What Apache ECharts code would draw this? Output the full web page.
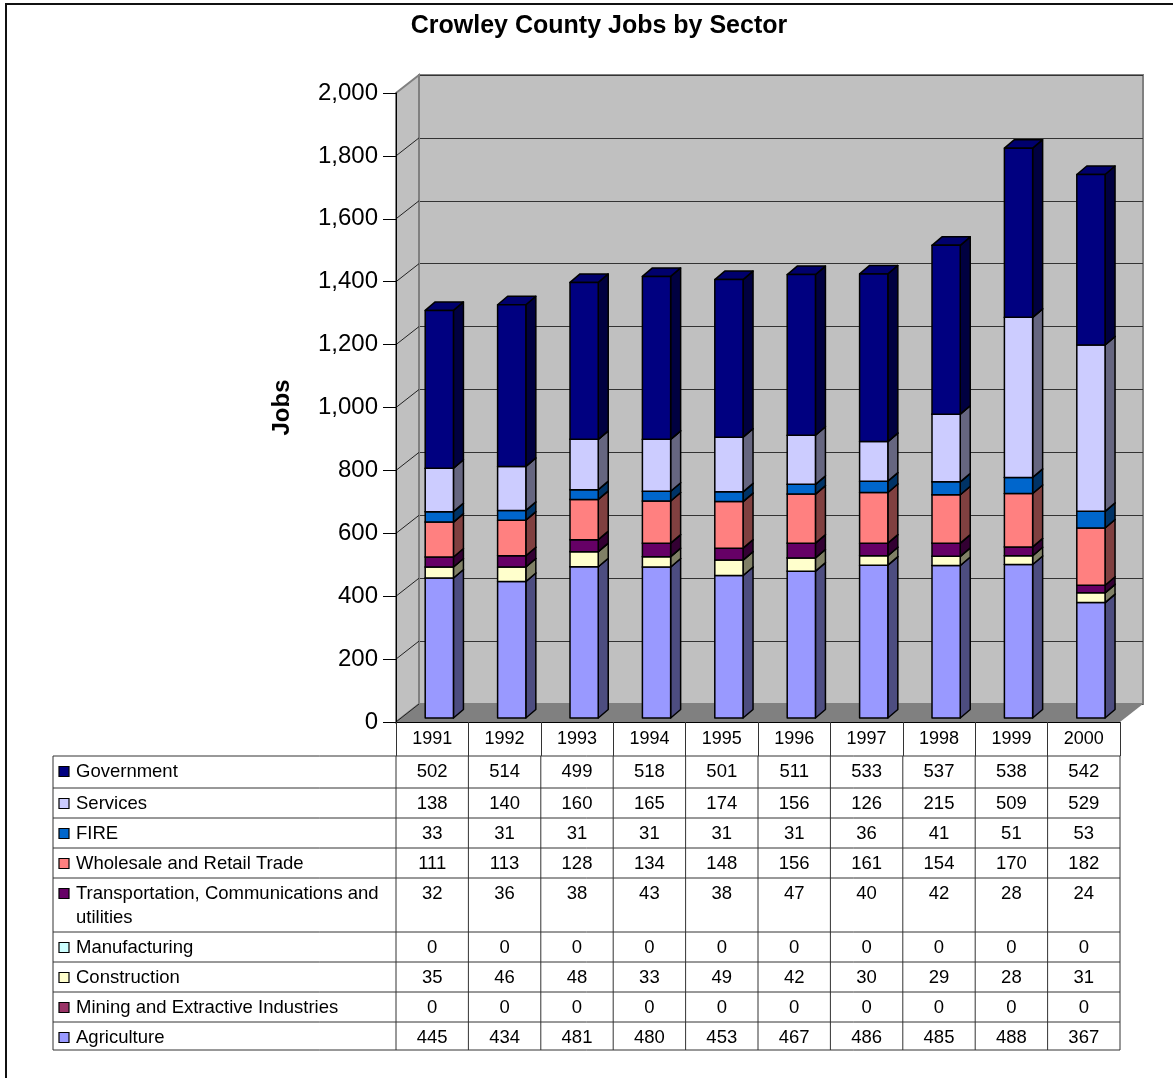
<!DOCTYPE html>
<html>
<head>
<meta charset="utf-8">
<title>Crowley County Jobs by Sector</title>
<script src="https://cdn.jsdelivr.net/npm/echarts@6/dist/echarts.min.js"></script>
<style>
  html, body { margin: 0; padding: 0; background: #fff; }
  #chart { width: 1173px; height: 1078px; }
</style>
</head>
<body>
<div id="chart"></div>
<script>
const years = ['1991', '1992', '1993', '1994', '1995', '1996', '1997', '1998', '1999', '2000']
const government = [502, 514, 499, 518, 501, 511, 533, 537, 538, 542]
const services = [138, 140, 160, 165, 174, 156, 126, 215, 509, 529]
const fire = [33, 31, 31, 31, 31, 31, 36, 41, 51, 53]
const wholesaleRetail = [111, 113, 128, 134, 148, 156, 161, 154, 170, 182]
const transportation = [32, 36, 38, 43, 38, 47, 40, 42, 28, 24]
const manufacturing = [0, 0, 0, 0, 0, 0, 0, 0, 0, 0]
const construction = [35, 46, 48, 33, 49, 42, 30, 29, 28, 31]
const mining = [0, 0, 0, 0, 0, 0, 0, 0, 0, 0]
const agriculture = [445, 434, 481, 480, 453, 467, 486, 485, 488, 367]
const yTicks = [0, 200, 400, 600, 800, 1000, 1200, 1400, 1600, 1800, 2000]

// stack order, bottom to top
const sectors = [
  { name: 'Agriculture', values: agriculture, color: '#9999FF' },
  { name: 'Mining and Extractive Industries', values: mining, color: '#993366' },
  { name: 'Construction', values: construction, color: '#FFFFCC' },
  { name: 'Manufacturing', values: manufacturing, color: '#CCFFFF' },
  { name: 'Transportation, Communications and utilities', values: transportation, color: '#660066' },
  { name: 'Wholesale and Retail Trade', values: wholesaleRetail, color: '#FF8080' },
  { name: 'FIRE', values: fire, color: '#0066CC' },
  { name: 'Services', values: services, color: '#CCCCFF' },
  { name: 'Government', values: government, color: '#000080' },
]
// table rows go top to bottom
const tableRows = sectors.slice().reverse()

const FONT = "'Liberation Sans', Arial, sans-serif"
const DX = 23, DY = -18          // depth of the walls
const BDX = 10, BDY = -8.5       // depth of one bar
const rowTops = [756, 788, 818, 848, 878, 932, 962, 992, 1022]
const tableBottom = 1050
const tableLeft = 53

function shade(hex, k) {
  const n = parseInt(hex.slice(1), 16)
  const r = Math.round(((n >> 16) & 255) * k)
  const g = Math.round(((n >> 8) & 255) * k)
  const b = Math.round((n & 255) * k)
  return `rgb(${r},${g},${b})`
}

const chart = echarts.init(document.getElementById('chart'))

// stacked 3d bars
const bases = years.map(() => 0)
const barSeries = sectors.map((s) => {
  const data = s.values.map((v, i) => [i, bases[i], bases[i] + v])
  s.values.forEach((v, i) => { bases[i] += v })
  return {
    type: 'custom',
    name: s.name,
    xAxisIndex: 0,
    yAxisIndex: 0,
    z: 5,
    data,
    renderItem(params, api) {
      const lo = api.value(1)
      const hi = api.value(2)
      if (hi <= lo) return null
      const pLo = api.coord([api.value(0), lo])
      const pHi = api.coord([api.value(0), hi])
      const band = api.size([1, 0])[0]
      const w = band * 0.39
      const xl = pLo[0] - 7
      const xr = xl + w
      const yl = pLo[1] - 4
      const yh = pHi[1] - 4
      const line = { stroke: '#000', lineWidth: 1.5, lineJoin: 'round' }
      return {
        type: 'group',
        children: [
          { type: 'polygon', shape: { points: [[xr, yl], [xr + BDX, yl + BDY], [xr + BDX, yh + BDY], [xr, yh]] },
            style: Object.assign({ fill: shade(s.color, 0.5) }, line) },
          { type: 'polygon', shape: { points: [[xl, yh], [xr, yh], [xr + BDX, yh + BDY], [xl + BDX, yh + BDY]] },
            style: Object.assign({ fill: shade(s.color, 0.85) }, line) },
          { type: 'rect', shape: { x: xl, y: yh, width: w, height: yl - yh },
            style: Object.assign({ fill: s.color }, line) },
        ],
      }
    },
  }
})

// left wall and floor
const wallSeries = {
  type: 'custom',
  xAxisIndex: 0,
  yAxisIndex: 0,
  z: 1,
  silent: true,
  data: [[0, 0]],
  renderItem(params) {
    const cs = params.coordSys
    const x0 = cs.x, x1 = cs.x + cs.width, yT = cs.y, yB = cs.y + cs.height
    return {
      type: 'group',
      children: [
        { type: 'polygon', shape: { points: [[x0, yT], [x0 + DX, yT + DY], [x0 + DX, yB + DY], [x0, yB]] },
          style: { fill: '#c0c0c0', stroke: '#808080', lineWidth: 2 } },
        { type: 'polygon', shape: { points: [[x0, yB], [x1, yB], [x1 + DX, yB + DY], [x0 + DX, yB + DY]] },
          style: { fill: '#808080' } },
      ],
    }
  },
}

// gridline continuations across the left wall
const wallTickSeries = {
  type: 'custom',
  xAxisIndex: 0,
  yAxisIndex: 0,
  z: 2,
  silent: true,
  data: yTicks.slice(0, -1).map((v) => [0, v]),
  renderItem(params, api) {
    const x0 = params.coordSys.x
    const p = api.coord([0, api.value(1)])
    return {
      type: 'line',
      shape: { x1: x0, y1: p[1], x2: x0 + DX, y2: p[1] + DY },
      style: { stroke: '#222', lineWidth: 1 },
    }
  },
}

// data table under the plot
const tableSeries = {
  type: 'custom',
  xAxisIndex: 0,
  yAxisIndex: 0,
  z: 3,
  silent: true,
  data: tableRows.map((r, k) => [k]),
  renderItem(params, api) {
    const k = params.dataIndex
    const row = tableRows[k]
    const cs = params.coordSys
    const band = api.size([1, 0])[0]
    const top = rowTops[k]
    const bottom = k + 1 < rowTops.length ? rowTops[k + 1] : tableBottom
    const lineStyle = { stroke: '#333', lineWidth: 1 }
    const children = [
      { type: 'line', shape: { x1: tableLeft, y1: top, x2: cs.x + cs.width, y2: top }, style: lineStyle },
      { type: 'line', shape: { x1: tableLeft, y1: top, x2: tableLeft, y2: bottom }, style: lineStyle },
      { type: 'rect', shape: { x: 59, y: top + 10.5, width: 10, height: 10 },
        style: { fill: row.color, stroke: '#000', lineWidth: 1.2 } },
      { type: 'text', x: 76, y: top + 3.5,
        style: { text: row.name, fill: '#000', font: `18.5px ${FONT}`, verticalAlign: 'top', lineHeight: 24,
                 width: 318, overflow: 'break' } },
    ]
    for (let j = 0; j <= years.length; j++) {
      const x = cs.x + j * band
      children.push({ type: 'line', shape: { x1: x, y1: top, x2: x, y2: bottom }, style: lineStyle })
    }
    row.values.forEach((v, c) => {
      const cx = api.coord([c, 0])[0]
      children.push({ type: 'text', x: cx, y: top + 15.5,
        style: { text: String(v), fill: '#000', font: `18.5px ${FONT}`, align: 'center', verticalAlign: 'middle' } })
    })
    if (k === rowTops.length - 1) {
      children.push({ type: 'line', shape: { x1: tableLeft, y1: bottom, x2: cs.x + cs.width, y2: bottom }, style: lineStyle })
    }
    return { type: 'group', children }
  },
}

chart.setOption({
  animation: false,
  backgroundColor: '#fff',
  textStyle: { fontFamily: FONT },
  graphic: [
    { type: 'rect', shape: { x: 6, y: 4, width: 1200, height: 1200 }, style: { fill: 'none', stroke: '#111', lineWidth: 2 }, z: 100 },
    { type: 'text', x: 599, y: 26, style: { text: 'Crowley County Jobs by Sector', fill: '#000',
      font: `bold 25px ${FONT}`, align: 'center', verticalAlign: 'middle' } },
  ],
  grid: [
    { left: 396, right: 53, top: 93, bottom: 356 },                     // front plane
    { left: 419, right: 30, top: 75, bottom: 374, show: true,            // back wall
      backgroundColor: '#c0c0c0', borderColor: '#808080', borderWidth: 2 },
  ],
  xAxis: [
    {
      type: 'category', gridIndex: 0, data: years, z: 6,
      axisLine: { show: true, lineStyle: { color: '#000', width: 1 } },
      axisTick: { show: true, length: 34, lineStyle: { color: '#333', width: 1 } },
      axisLabel: { fontSize: 18, color: '#000', margin: 8 },
    },
    { type: 'category', gridIndex: 1, data: years, show: false },
  ],
  yAxis: [
    {
      type: 'value', gridIndex: 0, min: 0, max: 2000, interval: 200, z: 6,
      name: 'Jobs', nameLocation: 'middle', nameGap: 102, nameRotate: 90,
      nameTextStyle: { fontSize: 24, fontWeight: 'bold', color: '#000' },
      axisLine: { show: true, lineStyle: { color: '#000', width: 1 } },
      axisTick: { show: true, length: 13, lineStyle: { color: '#000' } },
      axisLabel: { fontSize: 24, color: '#000', margin: 18, formatter: (v) => v.toLocaleString('en-US') },
      splitLine: { show: false },
    },
    {
      type: 'value', gridIndex: 1, min: 0, max: 2000, interval: 200,
      axisLine: { show: false }, axisTick: { show: false }, axisLabel: { show: false },
      splitLine: { show: true, lineStyle: { color: '#333', width: 1 } },
    },
  ],
  series: [wallSeries, wallTickSeries, tableSeries, ...barSeries],
})
</script>
</body>
</html>
